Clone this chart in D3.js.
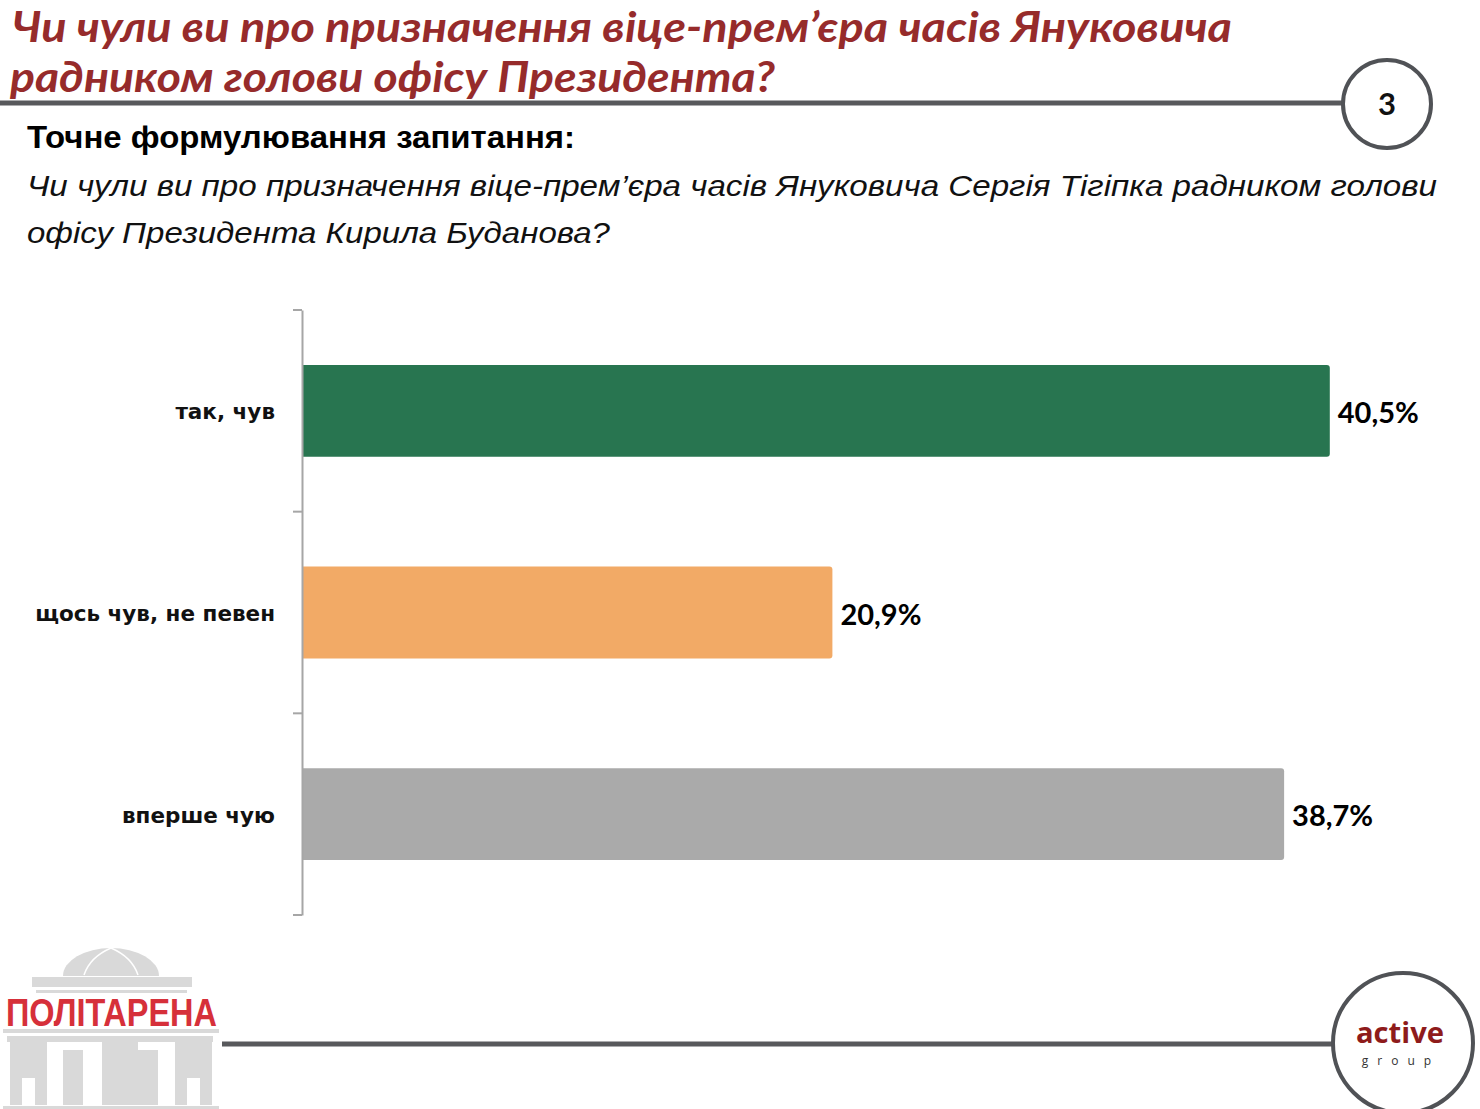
<!DOCTYPE html>
<html>
<head>
<meta charset="utf-8">
<script src="https://cdn.jsdelivr.net/npm/d3@7"></script>
<style>
  html, body { margin: 0; padding: 0; background: #fff; }
  svg { display: block; }
</style>
</head>
<body>
<div id="chart"></div>
<script>
const width = 1480;
const height = 1109;

// data
const categories = ["так, чув", "щось чув, не певен", "вперше чую"];
const values = [40.5, 20.9, 38.7];
const barColors = ["#287550", "#F2AA66", "#AAAAAA"];

const titleLines = [
  "Чи чули ви про призначення віце-прем\u2019єра часів Януковича",
  "радником голови офісу Президента?"
];
const subtitle = "Точне формулювання запитання:";
const questionLines = [
  "Чи чули ви про призначення віце-прем\u2019єра часів Януковича Сергія Тігіпка радником голови",
  "офісу Президента Кирила Буданова?"
];
const pageNumber = "3";

const fmt = v => d3.format(".1f")(v).replace(".", ",") + "%";

const svg = d3.select("#chart")
  .append("svg")
  .attr("width", width)
  .attr("height", height)
  .attr("viewBox", [0, 0, width, height]);

// header
const title = svg.append("g")
  .attr("font-family", "Lato, 'Open Sans', sans-serif")
  .attr("font-weight", 700)
  .attr("font-style", "italic")
  .attr("font-size", 42)
  .attr("fill", "#962B2B");

title.selectAll("text")
  .data(titleLines)
  .join("text")
  .attr("x", (d, i) => i === 0 ? 12 : 10)
  .attr("y", (d, i) => 42 + i * 50)
  .attr("textLength", (d, i) => i === 0 ? 1220 : 765)
  .attr("lengthAdjust", "spacingAndGlyphs")
  .text(d => d);

svg.append("line")
  .attr("x1", 0).attr("x2", 1343)
  .attr("y1", 103).attr("y2", 103)
  .attr("stroke", "#58595C")
  .attr("stroke-width", 5);

svg.append("circle")
  .attr("cx", 1387).attr("cy", 104).attr("r", 44)
  .attr("fill", "#fff")
  .attr("stroke", "#505256")
  .attr("stroke-width", 4);

svg.append("text")
  .attr("x", 1387).attr("y", 115)
  .attr("text-anchor", "middle")
  .attr("font-family", "Lato, sans-serif")
  .attr("font-weight", 700)
  .attr("font-size", 31)
  .attr("fill", "#111")
  .text(pageNumber);

svg.append("text")
  .attr("x", 27).attr("y", 148)
  .attr("font-family", "'Liberation Sans', Arial, sans-serif")
  .attr("font-weight", 700)
  .attr("font-size", 31)
  .attr("fill", "#000")
  .attr("textLength", 548)
  .attr("lengthAdjust", "spacingAndGlyphs")
  .text(subtitle);

svg.append("g")
  .attr("font-family", "'Liberation Sans', Arial, sans-serif")
  .attr("font-style", "italic")
  .attr("font-size", 30)
  .attr("fill", "#111")
  .selectAll("text")
  .data(questionLines)
  .join("text")
  .attr("x", 27)
  .attr("y", (d, i) => 196 + i * 47)
  .attr("textLength", (d, i) => i === 0 ? 1410 : 583)
  .attr("lengthAdjust", "spacingAndGlyphs")
  .text(d => d);

// chart
const x = d3.scaleLinear().domain([0, 45]).range([302, 1444]);
const y = d3.scaleBand()
  .domain(categories)
  .range([310, 915])
  .paddingInner(0.545)
  .paddingOuter(0.2725);

const rows = categories.map((c, i) => ({ cat: c, value: values[i], color: barColors[i] }));

// rounded right end only
const barPath = d => {
  const x0 = x(0), x1 = x(d.value), y0 = y(d.cat), h = y.bandwidth(), r = 3;
  return `M${x0},${y0}H${x1 - r}Q${x1},${y0} ${x1},${y0 + r}V${y0 + h - r}Q${x1},${y0 + h} ${x1 - r},${y0 + h}H${x0}Z`;
};

svg.append("g")
  .selectAll("path")
  .data(rows)
  .join("path")
  .attr("d", barPath)
  .attr("fill", d => d.color);

svg.append("g")
  .attr("font-family", "Lato, 'Open Sans', sans-serif")
  .attr("font-weight", 700)
  .attr("font-size", 29)
  .attr("fill", "#000")
  .selectAll("text")
  .data(rows)
  .join("text")
  .attr("x", d => x(d.value) + 8)
  .attr("y", d => y(d.cat) + y.bandwidth() / 2 + 2)
  .attr("dy", "0.35em")
  .text(d => fmt(d.value));

// category axis: labels via d3 axis, ticks at band boundaries like Excel
const axis = svg.append("g")
  .attr("transform", `translate(${x(0)},0)`)
  .call(d3.axisLeft(y).tickSize(0).tickPadding(27));

axis.select(".domain")
  .attr("stroke", "#A6A6A6")
  .attr("stroke-width", 2);

axis.selectAll(".tick text")
  .attr("font-family", "'DejaVu Sans', Verdana, sans-serif")
  .attr("font-weight", 700)
  .attr("font-size", 21.5)
  .attr("fill", "#111")
  .attr("dy", "0.4em");

const boundaries = d3.range(categories.length + 1).map(i => y.range()[0] + i * y.step());
axis.selectAll(".band-tick")
  .data(boundaries)
  .join("line")
  .attr("class", "band-tick")
  .attr("x1", -9).attr("x2", 0)
  .attr("y1", d => d).attr("y2", d => d)
  .attr("stroke", "#A6A6A6")
  .attr("stroke-width", 2);

// footer
svg.append("line")
  .attr("x1", 222).attr("x2", 1334)
  .attr("y1", 1044).attr("y2", 1044)
  .attr("stroke", "#58595C")
  .attr("stroke-width", 5);

svg.append("circle")
  .attr("cx", 1403).attr("cy", 1043).attr("r", 70)
  .attr("fill", "#fff")
  .attr("stroke", "#505256")
  .attr("stroke-width", 4);

svg.append("text")
  .attr("x", 1400).attr("y", 1043)
  .attr("text-anchor", "middle")
  .attr("font-family", "'Open Sans', sans-serif")
  .attr("font-weight", 700)
  .attr("font-size", 28)
  .attr("fill", "#8E1B1B")
  .attr("textLength", 88)
  .attr("lengthAdjust", "spacingAndGlyphs")
  .text("active");

svg.append("text")
  .attr("x", 1401).attr("y", 1065)
  .attr("text-anchor", "middle")
  .attr("font-family", "'Open Sans', sans-serif")
  .attr("font-size", 12)
  .attr("fill", "#333")
  .attr("letter-spacing", 9)
  .text("group");

// Politarena logo
const logo = svg.append("g").attr("fill", "#D9D9D9");
logo.append("path")
  .attr("d", "M63,976 A48,28 0 0 1 159,976 Z");
logo.append("path")
  .attr("d", "M84,975 Q90,957 111,948 M138,975 Q132,957 111,948")
  .attr("fill", "none")
  .attr("stroke", "#fff")
  .attr("stroke-width", 1.5);
const logoBlocks = [
  [32, 977, 160, 10], [36, 990, 151, 3],
  [3, 1029, 216, 4], [7, 1036, 206, 6],
  [10, 1041, 37, 64], [63, 1050, 20, 55], [102, 1041, 36, 64],
  [138, 1050, 20, 55], [175, 1041, 37, 64], [3, 1106, 216, 3]
];
logo.selectAll("rect.block")
  .data(logoBlocks)
  .join("rect")
  .attr("class", "block")
  .attr("x", d => d[0]).attr("y", d => d[1])
  .attr("width", d => d[2]).attr("height", d => d[3]);
logo.selectAll("rect.notch")
  .data([[22, 1078, 13, 28], [187, 1078, 13, 28]])
  .join("rect")
  .attr("class", "notch")
  .attr("fill", "#fff")
  .attr("x", d => d[0]).attr("y", d => d[1])
  .attr("width", d => d[2]).attr("height", d => d[3]);

svg.append("text")
  .attr("x", 6).attr("y", 1026)
  .attr("font-family", "'Liberation Sans', Arial, sans-serif")
  .attr("font-weight", 700)
  .attr("font-size", 38)
  .attr("fill", "#D6303A")
  .attr("textLength", 211)
  .attr("lengthAdjust", "spacingAndGlyphs")
  .text("ПОЛІТАРЕНА");
</script>
</body>
</html>
